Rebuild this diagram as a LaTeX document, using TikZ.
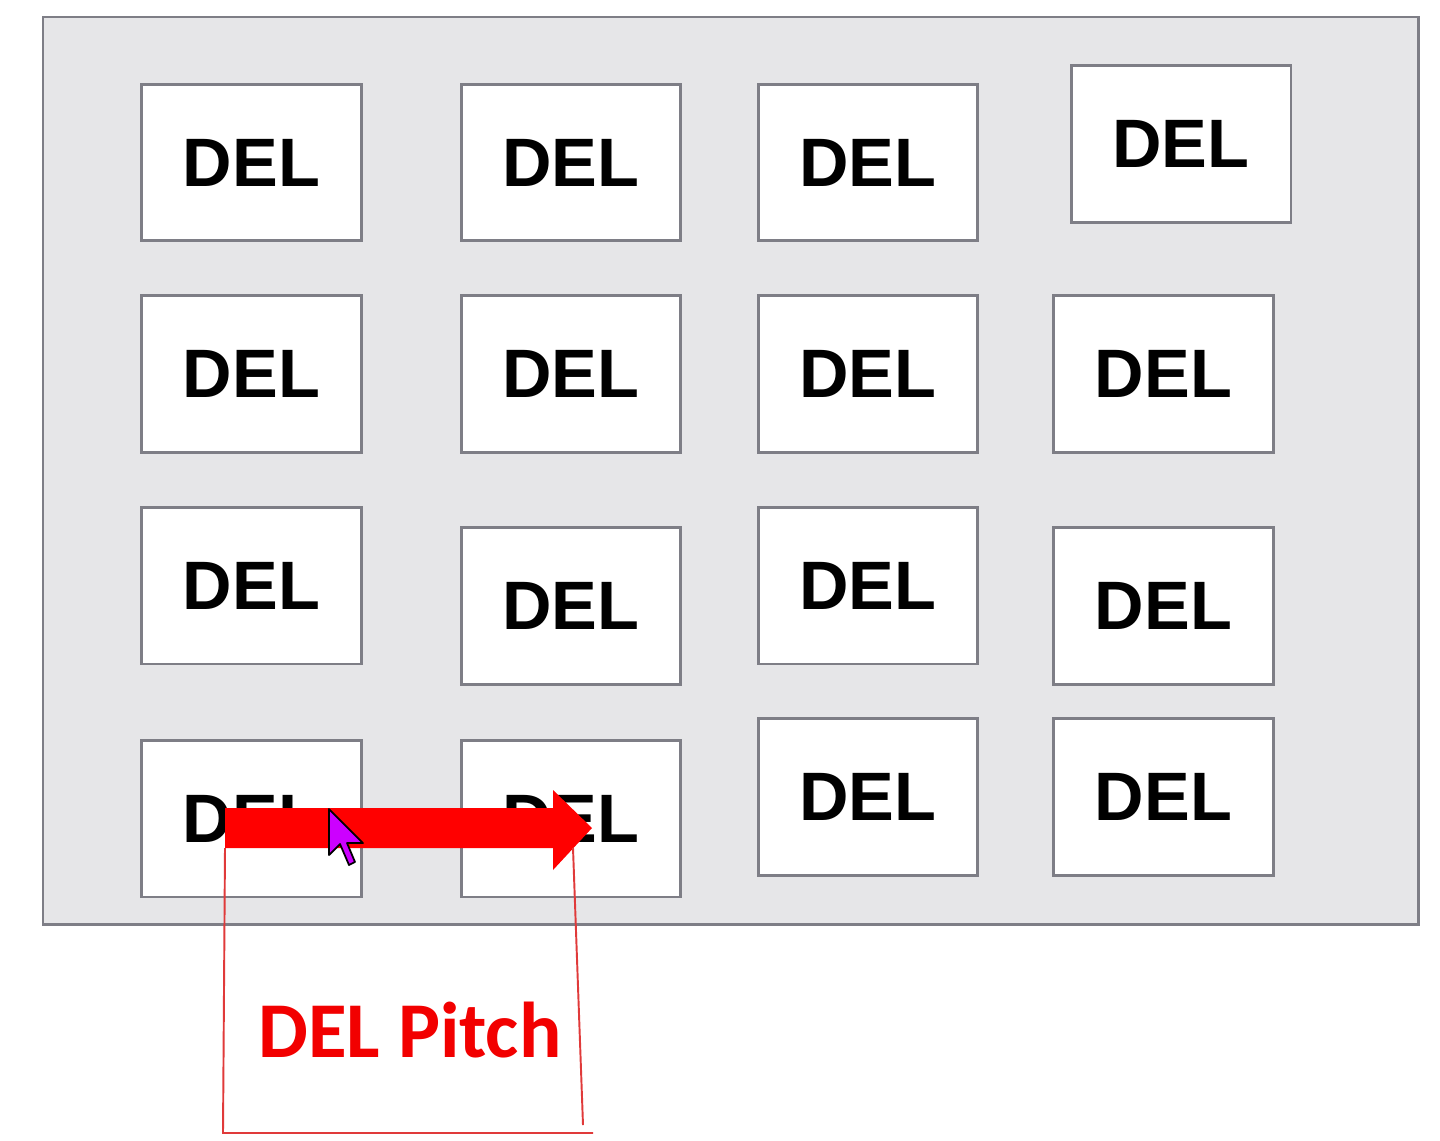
\documentclass[tikz,border=0pt]{standalone}
\usepackage{fontspec}
\setsansfont{Liberation Sans}
\newfontfamily\pitchfont{Carlito}
\usetikzlibrary{calc}
\definecolor{panelgray}{HTML}{E6E6E8}
\definecolor{edgegray}{HTML}{7E7E86}
\definecolor{pitchred}{HTML}{F20000}
\definecolor{linered}{HTML}{E03A3A}
\definecolor{cursorpink}{HTML}{CC00FF}

\begin{document}
\begin{tikzpicture}[x=0.02cm,y=-0.02cm,
    delbox/.style={draw=edgegray,line width=1.7pt,fill=white,
                   minimum width=4.4cm,minimum height=3.14cm,inner sep=0pt,
                   font=\sffamily\bfseries\fontsize{39}{39}\selectfont}]
\useasboundingbox (0,0) rectangle (1440,1140);
% panel
\draw[edgegray,line width=1.7pt,fill=panelgray] (43,17) rectangle (1418,924);
% DEL boxes, row by row
\foreach \name/\x/\y in {a1/251.5/162.5, a2/571/162.5, a3/868/162.5, a4/1181/144,
                         b1/251.5/374,   b2/571/374,   b3/868/374,   b4/1163.5/374,
                         c1/251.5/585.5, c2/571/606,   c3/868/585.5, c4/1163.5/606,
                         d1/251.5/818.5, d2/571/818.5, d3/868/797,   d4/1163.5/797}
  \node[delbox] (\name) at (\x,\y) {DEL};
% pitch arrow
\coordinate (pitchL) at (225,828);
\coordinate (pitchR) at (592,828);
\fill[red] ($(pitchL)+(0,-20)$) -- ($(pitchR)+(-39,-20)$) -- ($(pitchR)+(-39,-38)$)
  -- (pitchR) -- ($(pitchR)+(-39,42)$) -- ($(pitchR)+(-39,20)$)
  -- ($(pitchL)+(0,20)$) -- cycle;
% mouse pointer
\coordinate (ptr) at (329,809);
\draw[black,line width=1pt,fill=cursorpink,line join=round] (ptr) -- ++(0,46) -- ++(11,-11)
  -- ++(9,21) -- ++(6,-3) -- ++(-8,-19) -- ++(16,0) -- cycle;
% bracket
\coordinate (brL) at (223,1133);
\coordinate (brR) at (583,1125);
\draw[linered,line width=1.1pt] ($(pitchL)+(0,20)$) -- (brL) -- ++(370,0);
\draw[linered,line width=1.1pt] (573,848) -- (brR);
\node[anchor=base west,inner sep=0pt,text=pitchred,
      font=\pitchfont\bfseries\fontsize{45}{45}\selectfont] (pitch) at (258,1057) {DEL Pitch};
\end{tikzpicture}
\end{document}
